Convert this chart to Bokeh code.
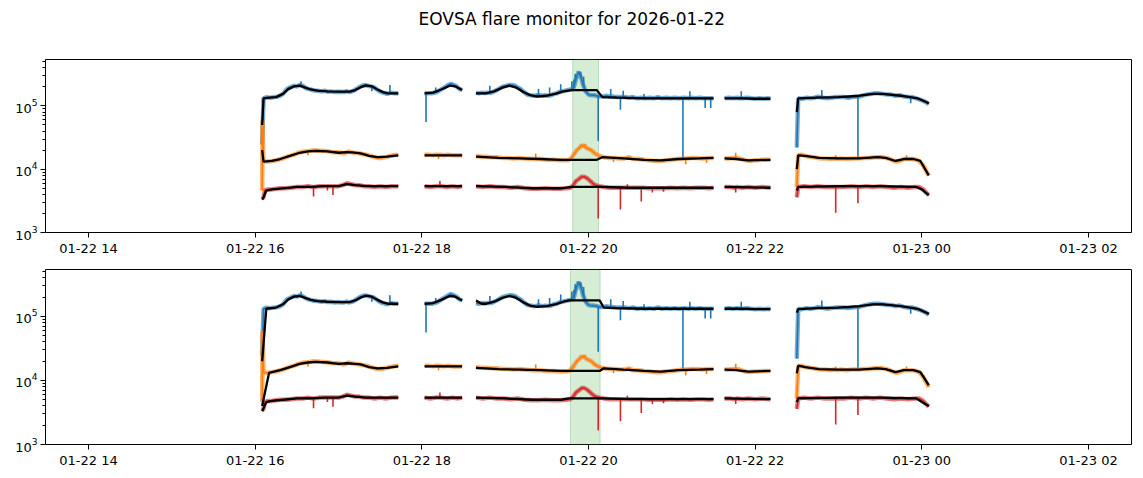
import numpy as np
import pandas as pd
from bokeh.plotting import figure
from bokeh.layouts import column
from bokeh.models import Range1d, FixedTicker, DatetimeTickFormatter, BoxAnnotation, ColumnDataSource, Title
from bokeh.embed import file_html
from bokeh.resources import INLINE

# ---------------- data (time = minutes after 2026-01-22 00:00) ----------------
DAY0 = "2026-01-22 00:00"
TITLE = "EOVSA flare monitor for 2026-01-22"
x_tick_minutes = [840, 960, 1080, 1200, 1320, 1440, 1560]
x_tick_labels = ["01-22 14", "01-22 16", "01-22 18", "01-22 20", "01-22 22", "01-23 00", "01-23 02"]
y_major_ticks = [1e3, 1e4, 1e5]
x_view = (809, 1591)
y_view = (1e3, 5.42e5)
flare_top = (1188.6, 1207.2)
flare_bottom = (1187.0, 1208.4)

blue_raw = [
    [(965, 2.45e4), (966, 1.32e5), (968, 1.37e5), (971, 1.35e5), (974, 1.38e5), (976, 1.40e5), (978, 1.45e5),
     (980, 1.55e5), (983, 1.86e5), (985, 1.95e5), (988, 2.09e5), (990, 2.04e5), (992, 2.14e5), (994, 2.09e5),
     (996, 1.95e5), (998, 1.86e5), (1000, 1.82e5), (1002, 1.76e5), (1005, 1.74e5), (1008, 1.70e5), (1010, 1.74e5),
     (1012, 1.68e5), (1014, 1.70e5), (1017, 1.66e5), (1020, 1.68e5), (1022, 1.66e5), (1024, 1.66e5), (1026, 1.72e5),
     (1027, 1.66e5), (1029, 1.68e5), (1031, 1.74e5), (1033, 1.86e5), (1035, 1.98e5), (1037, 2.09e5), (1039, 2.14e5),
     (1041, 2.09e5), (1043, 2.04e5), (1045, 2.0e5), (1047, 1.86e5), (1050, 1.68e5), (1052, 1.62e5), (1055, 1.55e5),
     (1058, 1.62e5), (1060, 1.58e5), (1063, 1.58e5)],
    [(1082, 1.58e5), (1084, 1.58e5), (1087, 1.58e5), (1089, 1.62e5), (1091, 1.66e5), (1093, 1.78e5), (1096, 1.95e5),
     (1099, 2.14e5), (1101, 2.24e5), (1103, 2.14e5), (1105, 2.04e5), (1107, 1.86e5), (1109, 1.78e5)],
    [(1119, 1.62e5), (1121, 1.58e5), (1123, 1.62e5), (1125, 1.60e5), (1127, 1.62e5), (1130, 1.62e5), (1132, 1.70e5),
     (1134, 1.78e5), (1137, 1.95e5), (1139, 2.04e5), (1141, 2.09e5), (1143, 2.14e5), (1145, 2.14e5), (1147, 2.09e5),
     (1149, 1.95e5), (1151, 1.86e5), (1153, 1.70e5), (1156, 1.51e5), (1158, 1.48e5), (1161, 1.45e5), (1163, 1.48e5),
     (1165, 1.48e5), (1167, 1.45e5), (1169, 1.48e5), (1171, 1.45e5), (1173, 1.48e5), (1175, 1.55e5), (1177, 1.58e5),
     (1179, 1.66e5), (1181, 1.70e5), (1183, 1.74e5), (1185, 1.78e5), (1187, 1.82e5), (1189, 1.86e5), (1190, 2.2e5),
     (1191, 2.69e5), (1192, 3.1e5), (1193, 3.47e5), (1194, 3.0e5), (1195, 2.69e5), (1196, 2.2e5), (1198, 1.70e5),
     (1200, 1.51e5), (1202, 1.48e5), (1204, 1.48e5), (1206, 1.45e5), (1208, 1.41e5), (1211, 1.41e5), (1213, 1.45e5),
     (1215, 1.41e5), (1217, 1.41e5), (1220, 1.38e5), (1224, 1.38e5), (1226, 1.38e5), (1229, 1.35e5), (1232, 1.38e5),
     (1235, 1.32e5), (1238, 1.35e5), (1241, 1.32e5), (1244, 1.35e5), (1247, 1.32e5), (1250, 1.38e5), (1253, 1.32e5),
     (1256, 1.35e5), (1259, 1.32e5), (1262, 1.35e5), (1265, 1.32e5), (1269, 1.35e5), (1272, 1.32e5), (1274, 1.35e5),
     (1277, 1.32e5), (1280, 1.35e5), (1283, 1.32e5), (1286, 1.32e5), (1290, 1.32e5)],
    [(1298, 1.32e5), (1301, 1.35e5), (1304, 1.32e5), (1307, 1.35e5), (1309, 1.32e5), (1311, 1.32e5), (1314, 1.35e5),
     (1317, 1.32e5), (1320, 1.30e5), (1323, 1.32e5), (1326, 1.30e5), (1329, 1.32e5), (1331, 1.30e5)],
    [(1350, 2.2e4), (1351, 1.32e5), (1354, 1.30e5), (1357, 1.35e5), (1360, 1.32e5), (1363, 1.35e5), (1365, 1.40e5),
     (1369, 1.35e5), (1372, 1.32e5), (1375, 1.35e5), (1378, 1.38e5), (1381, 1.38e5), (1384, 1.38e5), (1387, 1.35e5),
     (1390, 1.38e5), (1393, 1.40e5), (1395, 1.41e5), (1397, 1.45e5), (1400, 1.51e5), (1403, 1.55e5), (1406, 1.58e5),
     (1409, 1.58e5), (1412, 1.55e5), (1415, 1.51e5), (1418, 1.51e5), (1421, 1.45e5), (1424, 1.48e5), (1427, 1.41e5),
     (1430, 1.38e5), (1433, 1.38e5), (1436, 1.32e5), (1440, 1.23e5), (1443, 1.15e5), (1445, 1.07e5)],
]
# short one-sample spikes: (minute, level, tip)
blue_spikes = [(993, 2.09e5, 2.45e5), (1044, 2.04e5, 1.70e5), (1057, 1.58e5, 2.14e5), (1083, 1.58e5, 5.6e4),
               (1090, 1.62e5, 1.95e5), (1129, 1.62e5, 2.09e5), (1164, 1.48e5, 1.86e5), (1172, 1.45e5, 1.95e5),
               (1180, 1.66e5, 2.2e5), (1188, 1.82e5, 2.45e5), (1189.5, 1.95e5, 2.6e5), (1190.5, 2.4e5, 3.2e5),
               (1194.5, 2.8e5, 3.4e5), (1196.5, 2.0e5, 2.9e5), (1207, 1.45e5, 2.8e4), (1216, 1.41e5, 1.86e5),
               (1223, 1.38e5, 8.7e4), (1225, 1.38e5, 1.74e5), (1240, 1.33e5, 1.55e5), (1268, 1.33e5, 1.51e4),
               (1273, 1.32e5, 1.70e5), (1284, 1.32e5, 9.3e4), (1288, 1.32e5, 9.3e4), (1310, 1.32e5, 1.70e5),
               (1368, 1.35e5, 1.78e5), (1380, 1.38e5, 1.45e5), (1394, 1.40e5, 1.51e4), (1432, 1.38e5, 1.10e5)]

orange_raw = [
    [(965, 4.6e3), (965.3, 6.0e4), (966, 1.32e4), (969, 1.32e4), (972, 1.35e4), (975, 1.38e4), (978, 1.45e4),
     (980, 1.48e4), (983, 1.58e4), (986, 1.66e4), (988, 1.70e4), (991, 1.82e4), (993, 1.86e4), (995, 1.91e4),
     (997, 1.91e4), (999, 1.95e4), (1002, 2.0e4), (1005, 1.98e4), (1008, 1.95e4), (1010, 1.95e4), (1013, 1.91e4),
     (1016, 1.86e4), (1019, 1.86e4), (1022, 1.82e4), (1024, 1.78e4), (1027, 1.91e4), (1029, 1.86e4), (1031, 1.82e4),
     (1034, 1.80e4), (1037, 1.74e4), (1040, 1.70e4), (1043, 1.62e4), (1046, 1.55e4), (1048, 1.51e4), (1051, 1.51e4),
     (1055, 1.58e4), (1059, 1.66e4), (1063, 1.70e4)],
    [(1082, 1.70e4), (1085, 1.70e4), (1088, 1.66e4), (1090, 1.70e4), (1093, 1.70e4), (1096, 1.66e4), (1099, 1.70e4),
     (1102, 1.66e4), (1105, 1.66e4), (1109, 1.66e4)],
    [(1119, 1.62e4), (1122, 1.58e4), (1126, 1.58e4), (1130, 1.55e4), (1134, 1.55e4), (1138, 1.51e4), (1142, 1.51e4),
     (1146, 1.48e4), (1150, 1.51e4), (1154, 1.48e4), (1160, 1.45e4), (1163, 1.45e4), (1166, 1.45e4), (1170, 1.41e4),
     (1175, 1.41e4), (1180, 1.38e4), (1185, 1.38e4), (1187, 1.45e4), (1189, 1.66e4), (1191, 1.91e4), (1192, 2.04e4),
     (1194, 2.24e4), (1195, 2.4e4), (1196, 2.3e4), (1197, 2.45e4), (1198, 2.2e4), (1200, 2.1e4), (1202, 2.0e4),
     (1204, 1.82e4), (1206, 1.70e4), (1208, 1.62e4), (1211, 1.55e4), (1214, 1.51e4), (1219, 1.51e4), (1222, 1.48e4),
     (1226, 1.48e4), (1229, 1.55e4), (1232, 1.45e4), (1236, 1.45e4), (1240, 1.41e4), (1244, 1.38e4), (1248, 1.35e4),
     (1252, 1.35e4), (1256, 1.38e4), (1260, 1.41e4), (1264, 1.45e4), (1268, 1.48e4), (1271, 1.48e4), (1274, 1.51e4),
     (1278, 1.51e4), (1282, 1.48e4), (1286, 1.51e4), (1290, 1.51e4)],
    [(1298, 1.48e4), (1301, 1.48e4), (1304, 1.51e4), (1307, 1.51e4), (1310, 1.45e4), (1313, 1.38e4), (1316, 1.35e4),
     (1319, 1.38e4), (1322, 1.38e4), (1325, 1.41e4), (1328, 1.41e4), (1331, 1.41e4)],
    [(1350, 5.25e3), (1351, 1.66e4), (1353, 1.70e4), (1356, 1.62e4), (1359, 1.58e4), (1362, 1.55e4), (1365, 1.51e4),
     (1368, 1.48e4), (1371, 1.48e4), (1374, 1.45e4), (1377, 1.48e4), (1379, 1.45e4), (1382, 1.48e4), (1386, 1.45e4),
     (1390, 1.48e4), (1394, 1.48e4), (1398, 1.51e4), (1402, 1.51e4), (1406, 1.55e4), (1409, 1.55e4), (1411, 1.55e4),
     (1414, 1.51e4), (1417, 1.45e4), (1420, 1.35e4), (1422, 1.32e4), (1425, 1.38e4), (1427, 1.45e4), (1430, 1.45e4),
     (1433, 1.45e4), (1436, 1.41e4), (1438, 1.35e4), (1441, 1.15e4), (1443, 9.5e3), (1445, 7.9e3)],
]
orange_spikes = [(998, 1.91e4, 1.66e4), (1009, 1.95e4, 1.82e4), (1039, 1.74e4, 1.66e4), (1092, 1.70e4, 1.45e4),
                 (1162, 1.45e4, 1.78e4), (1218, 1.51e4, 1.30e4), (1270, 1.48e4, 1.20e4), (1285, 1.48e4, 1.26e4),
                 (1306, 1.51e4, 1.82e4), (1378, 1.48e4, 1.66e4), (1410, 1.55e4, 1.66e4), (1429, 1.45e4, 1.66e4)]

red_raw = [
    [(965, 3.4e3), (966, 3.6e3), (967, 4.6e3), (969, 4.8e3), (972, 4.8e3), (975, 4.9e3), (978, 5.0e3), (982, 5.0e3),
     (986, 5.1e3), (990, 5.25e3), (994, 5.25e3), (998, 5.4e3), (1001, 5.25e3), (1003, 5.25e3), (1006, 5.4e3),
     (1010, 5.4e3), (1013, 5.4e3), (1017, 5.4e3), (1020, 5.4e3), (1023, 5.6e3), (1026, 6.0e3), (1029, 5.8e3),
     (1032, 5.6e3), (1035, 5.6e3), (1038, 5.4e3), (1042, 5.4e3), (1046, 5.25e3), (1050, 5.4e3), (1054, 5.25e3),
     (1058, 5.4e3), (1063, 5.4e3)],
    [(1082, 5.4e3), (1086, 5.25e3), (1090, 5.4e3), (1094, 5.4e3), (1098, 5.25e3), (1102, 5.4e3), (1106, 5.25e3),
     (1109, 5.4e3)],
    [(1119, 5.4e3), (1124, 5.25e3), (1129, 5.4e3), (1134, 5.25e3), (1139, 5.25e3), (1144, 5.1e3), (1149, 5.25e3),
     (1154, 5.0e3), (1159, 4.9e3), (1164, 4.9e3), (1169, 5.0e3), (1174, 4.9e3), (1179, 4.9e3), (1184, 5.0e3),
     (1187, 5.1e3), (1189, 5.6e3), (1191, 6.5e3), (1193, 7.0e3), (1195, 7.6e3), (1197, 7.6e3), (1199, 7.2e3),
     (1201, 6.6e3), (1203, 6.0e3), (1205, 5.6e3), (1208, 5.4e3), (1211, 5.25e3), (1215, 5.1e3), (1219, 5.1e3),
     (1224, 5.1e3), (1229, 5.1e3), (1233, 5.1e3), (1239, 5.1e3), (1243, 5.0e3), (1247, 5.0e3), (1251, 5.0e3),
     (1255, 5.0e3), (1259, 5.1e3), (1264, 5.0e3), (1268, 5.1e3), (1273, 5.0e3), (1278, 5.1e3), (1283, 5.1e3),
     (1287, 5.0e3), (1290, 5.1e3)],
    [(1298, 5.25e3), (1302, 5.25e3), (1305, 5.1e3), (1307, 5.25e3), (1311, 5.1e3), (1315, 5.25e3), (1320, 5.1e3),
     (1325, 5.25e3), (1331, 5.1e3)],
    [(1350, 3.6e3), (1351, 5.25e3), (1355, 5.4e3), (1360, 5.25e3), (1365, 5.4e3), (1370, 5.25e3), (1376, 5.25e3),
     (1379, 5.25e3), (1384, 5.25e3), (1389, 5.4e3), (1395, 5.25e3), (1400, 5.4e3), (1405, 5.25e3), (1410, 5.4e3),
     (1415, 5.25e3), (1420, 5.1e3), (1425, 5.25e3), (1430, 5.1e3), (1435, 5.25e3), (1438, 5.25e3), (1441, 4.8e3),
     (1443, 4.3e3), (1445, 3.9e3)],
]
red_spikes = [(1002, 5.25e3, 3.7e3), (1012, 5.4e3, 4.6e3), (1016, 5.4e3, 3.9e3), (1093, 5.4e3, 6.5e3),
              (1207, 5.4e3, 1.66e3), (1223, 5.1e3, 2.3e3), (1228, 5.1e3, 5.8e3), (1238, 5.1e3, 3.1e3),
              (1246, 5.0e3, 4.3e3), (1254, 5.0e3, 4.4e3), (1306, 5.2e3, 4.3e3), (1378, 5.25e3, 2.05e3),
              (1394, 5.25e3, 2.9e3)]

# background (black) curves, upper panel
blue_bg_top = [
    [(965, 5.0e4), (966, 1.32e5), (970, 1.35e5), (975, 1.38e5), (980, 1.55e5), (984, 1.86e5), (988, 2.04e5),
     (992, 2.09e5), (996, 1.95e5), (1000, 1.82e5), (1005, 1.74e5), (1012, 1.70e5), (1020, 1.68e5), (1028, 1.68e5),
     (1032, 1.78e5), (1036, 1.98e5), (1040, 2.12e5), (1044, 2.04e5), (1048, 1.82e5), (1052, 1.66e5), (1056, 1.58e5),
     (1063, 1.58e5)],
    [(1082, 1.58e5), (1088, 1.62e5), (1094, 1.82e5), (1100, 2.09e5), (1104, 2.04e5), (1109, 1.78e5)],
    [(1119, 1.58e5), (1126, 1.58e5), (1132, 1.70e5), (1138, 1.95e5), (1143, 2.09e5), (1148, 1.95e5), (1153, 1.66e5),
     (1158, 1.48e5), (1163, 1.41e5), (1170, 1.45e5), (1176, 1.55e5), (1182, 1.70e5), (1188, 1.78e5), (1206, 1.78e5),
     (1210, 1.38e5), (1220, 1.35e5), (1240, 1.32e5), (1260, 1.32e5), (1290, 1.32e5)],
    [(1298, 1.32e5), (1310, 1.32e5), (1320, 1.30e5), (1331, 1.30e5)],
    [(1350, 8.0e4), (1351, 1.32e5), (1365, 1.35e5), (1380, 1.38e5), (1395, 1.45e5), (1405, 1.55e5), (1412, 1.55e5),
     (1425, 1.45e5), (1437, 1.32e5), (1445, 1.10e5)],
]
orange_bg_top = [
    [(965, 2.0e4), (966, 1.32e4), (972, 1.35e4), (978, 1.45e4), (985, 1.62e4), (992, 1.82e4), (998, 1.91e4),
     (1004, 1.95e4), (1012, 1.91e4), (1020, 1.82e4), (1026, 1.86e4), (1030, 1.84e4), (1036, 1.78e4), (1042, 1.62e4),
     (1048, 1.55e4), (1055, 1.58e4), (1063, 1.66e4)],
    [(1082, 1.66e4), (1095, 1.66e4), (1109, 1.66e4)],
    [(1119, 1.58e4), (1135, 1.51e4), (1150, 1.48e4), (1165, 1.45e4), (1180, 1.41e4), (1188, 1.41e4), (1206, 1.41e4),
     (1210, 1.55e4), (1225, 1.48e4), (1240, 1.41e4), (1252, 1.38e4), (1265, 1.45e4), (1280, 1.48e4), (1290, 1.51e4)],
    [(1298, 1.48e4), (1306, 1.45e4), (1315, 1.38e4), (1331, 1.41e4)],
    [(1350, 1.0e4), (1351, 1.66e4), (1356, 1.62e4), (1366, 1.51e4), (1380, 1.48e4), (1395, 1.48e4), (1408, 1.55e4),
     (1414, 1.51e4), (1421, 1.35e4), (1427, 1.45e4), (1434, 1.45e4), (1439, 1.35e4), (1445, 8.0e3)],
]
red_bg_top = [
    [(965, 3.3e3), (966, 3.6e3), (968, 4.6e3), (972, 4.8e3), (980, 5.0e3), (990, 5.25e3), (1000, 5.25e3),
     (1010, 5.4e3), (1020, 5.4e3), (1026, 5.8e3), (1032, 5.6e3), (1040, 5.4e3), (1063, 5.4e3)],
    [(1082, 5.4e3), (1109, 5.4e3)],
    [(1119, 5.4e3), (1140, 5.25e3), (1160, 5.0e3), (1180, 5.0e3), (1188, 5.25e3), (1206, 5.25e3), (1210, 5.25e3),
     (1230, 5.1e3), (1260, 5.1e3), (1290, 5.1e3)],
    [(1298, 5.25e3), (1331, 5.1e3)],
    [(1350, 4.6e3), (1351, 5.25e3), (1380, 5.4e3), (1410, 5.4e3), (1436, 5.25e3), (1440, 4.8e3), (1445, 3.9e3)],
]

# background (black) curves, lower panel
blue_bg_bottom = [
    [(965, 2.0e4), (968, 1.32e5), (975, 1.38e5), (980, 1.55e5), (984, 1.86e5), (988, 2.04e5), (992, 2.09e5),
     (996, 1.95e5), (1000, 1.82e5), (1005, 1.74e5), (1012, 1.70e5), (1020, 1.68e5), (1028, 1.68e5), (1032, 1.78e5),
     (1036, 1.98e5), (1040, 2.12e5), (1044, 2.04e5), (1048, 1.82e5), (1052, 1.66e5), (1056, 1.58e5), (1063, 1.58e5)],
    [(1082, 1.58e5), (1088, 1.62e5), (1094, 1.82e5), (1100, 2.09e5), (1104, 2.04e5), (1109, 1.78e5)],
    [(1119, 1.78e5), (1123, 1.58e5), (1126, 1.58e5), (1132, 1.70e5), (1138, 1.95e5), (1143, 2.09e5), (1148, 1.95e5),
     (1153, 1.66e5), (1158, 1.48e5), (1163, 1.41e5), (1170, 1.45e5), (1176, 1.55e5), (1182, 1.70e5), (1186, 1.78e5),
     (1208, 1.78e5), (1211, 1.38e5), (1220, 1.35e5), (1240, 1.32e5), (1260, 1.32e5), (1290, 1.32e5)],
    [(1298, 1.32e5), (1310, 1.32e5), (1320, 1.30e5), (1331, 1.30e5)],
    [(1350, 1.15e5), (1351, 1.30e5), (1365, 1.35e5), (1380, 1.38e5), (1395, 1.45e5), (1405, 1.55e5), (1412, 1.55e5),
     (1425, 1.45e5), (1437, 1.32e5), (1445, 1.10e5)],
]
orange_bg_bottom = [
    [(965, 4.0e3), (970, 1.32e4), (972, 1.35e4), (978, 1.45e4), (985, 1.62e4), (992, 1.82e4), (998, 1.91e4),
     (1004, 1.95e4), (1012, 1.91e4), (1020, 1.82e4), (1026, 1.86e4), (1030, 1.84e4), (1036, 1.78e4), (1042, 1.62e4),
     (1048, 1.55e4), (1055, 1.58e4), (1063, 1.66e4)],
    [(1082, 1.66e4), (1095, 1.66e4), (1109, 1.66e4)],
    [(1119, 1.58e4), (1135, 1.51e4), (1150, 1.48e4), (1165, 1.45e4), (1180, 1.41e4), (1186, 1.41e4), (1208, 1.41e4),
     (1211, 1.55e4), (1225, 1.48e4), (1240, 1.41e4), (1252, 1.38e4), (1265, 1.45e4), (1280, 1.48e4), (1290, 1.51e4)],
    [(1298, 1.48e4), (1306, 1.45e4), (1315, 1.38e4), (1331, 1.41e4)],
    [(1350, 1.3e4), (1351, 1.70e4), (1356, 1.62e4), (1366, 1.51e4), (1380, 1.48e4), (1395, 1.48e4), (1408, 1.55e4),
     (1414, 1.51e4), (1421, 1.35e4), (1427, 1.45e4), (1434, 1.45e4), (1439, 1.35e4), (1445, 8.5e3)],
]
red_bg_bottom = [
    [(965, 3.3e3), (968, 4.6e3), (972, 4.8e3), (980, 5.0e3), (990, 5.25e3), (1000, 5.25e3), (1010, 5.4e3),
     (1020, 5.4e3), (1026, 5.8e3), (1032, 5.6e3), (1040, 5.4e3), (1063, 5.4e3)],
    [(1082, 5.4e3), (1109, 5.4e3)],
    [(1119, 5.4e3), (1140, 5.25e3), (1160, 5.0e3), (1180, 5.0e3), (1186, 5.25e3), (1208, 5.25e3), (1211, 5.25e3),
     (1230, 5.1e3), (1260, 5.1e3), (1290, 5.1e3)],
    [(1298, 5.25e3), (1331, 5.1e3)],
    [(1350, 4.6e3), (1351, 5.25e3), (1380, 5.4e3), (1410, 5.4e3), (1436, 5.25e3), (1440, 4.6e3), (1445, 4.0e3)],
]

COLORS = {"blue": "#1f77b4", "orange": "#ff7f0e", "red": "#d62728", "flare": "#2ca02c"}

# ---------------- helpers ----------------
T0 = pd.Timestamp(DAY0)


def ms(minutes):
    return (T0 + pd.Timedelta(minutes=minutes)).value / 1e6


def segments_source(segs):
    xs, ys = [], []
    for seg in segs:
        for t, v in seg:
            xs.append(ms(t))
            ys.append(v)
        xs.append(np.nan)
        ys.append(np.nan)
    return ColumnDataSource(data=dict(x=xs, y=ys))


def spikes_source(spikes):
    return ColumnDataSource(data=dict(x=[ms(t) for t, _, _ in spikes],
                                      y0=[b for _, b, _ in spikes],
                                      y1=[s for _, _, s in spikes]))


y_minor = [m * 10 ** d for d in (3, 4, 5) for m in range(2, 10) if m * 10 ** d <= y_view[1]]
FONT = "DejaVu Sans"
W = 1135


def make_panel(bgs, flare, height, border_top, border_bottom, title=None):
    p = figure(width=W, height=height, x_axis_type="datetime", y_axis_type="log",
               x_range=Range1d(ms(x_view[0]), ms(x_view[1])), y_range=Range1d(*y_view),
               output_backend="svg", toolbar_location=None,
               min_border_left=45, min_border_right=4, min_border_top=border_top,
               min_border_bottom=border_bottom)
    p.background_fill_color = "white"
    p.border_fill_color = "white"
    p.outline_line_color = "black"
    p.outline_line_width = 1
    p.outline_line_alpha = 1
    p.xgrid.visible = False
    p.ygrid.visible = False

    if title:
        # blank spacer between the frame and the title pushes the title to the top of the page
        p.add_layout(Title(text=" ", text_font_size="13px", standoff=12), "above")
        p.title.text = title
        p.title.align = "left"
        p.title.offset = 373
        p.title.vertical_align = "top"
        p.title.text_font = FONT
        p.title.text_font_size = "17px"
        p.title.text_font_style = "normal"
        p.title.text_color = "black"
        p.title.standoff = 0

    p.add_layout(BoxAnnotation(left=ms(flare[0]), right=ms(flare[1]), fill_color=COLORS["flare"],
                               fill_alpha=0.2, line_color=COLORS["flare"], line_alpha=0.25,
                               line_width=1, level="underlay"))

    for segs, spikes, col in ((blue_raw, blue_spikes, "blue"), (orange_raw, orange_spikes, "orange"),
                              (red_raw, red_spikes, "red")):
        src = segments_source(segs)
        p.line("x", "y", source=src, line_color=COLORS[col], line_width=4.5, line_alpha=0.6)
        p.line("x", "y", source=src, line_color=COLORS[col], line_width=1.6)
        p.segment(x0="x", y0="y0", x1="x", y1="y1", source=spikes_source(spikes),
                  line_color=COLORS[col], line_width=1.6)
    for segs in bgs:
        p.line("x", "y", source=segments_source(segs), line_color="black", line_width=2.3)

    p.xaxis.ticker = FixedTicker(ticks=[ms(m) for m in x_tick_minutes], minor_ticks=[])
    fmt = "%m-%d %H"
    p.xaxis.formatter = DatetimeTickFormatter(hours=fmt, hourmin=fmt, days=fmt, minutes=fmt, months=fmt, years=fmt)
    p.yaxis.ticker = FixedTicker(ticks=y_major_ticks, minor_ticks=y_minor)

    for ax in (p.xaxis[0], p.yaxis[0]):
        ax.axis_line_color = None
        ax.major_tick_line_color = "black"
        ax.minor_tick_line_color = "black"
        ax.major_tick_out = 5
        ax.major_tick_in = 0
        ax.minor_tick_out = 3
        ax.minor_tick_in = 0
        ax.major_label_text_font = FONT
        ax.major_label_text_font_size = "13px"
        ax.major_label_text_color = "black"
        ax.major_label_standoff = 3
    return p


p1 = make_panel((blue_bg_top, orange_bg_top, red_bg_top), flare_top, 258, 59, 24, TITLE)
p2 = make_panel((blue_bg_bottom, orange_bg_bottom, red_bg_bottom), flare_bottom, 212, 11, 26)

layout = column(p1, p2, spacing=0)
open("out.html", "w").write(file_html(layout, INLINE, title=TITLE))
